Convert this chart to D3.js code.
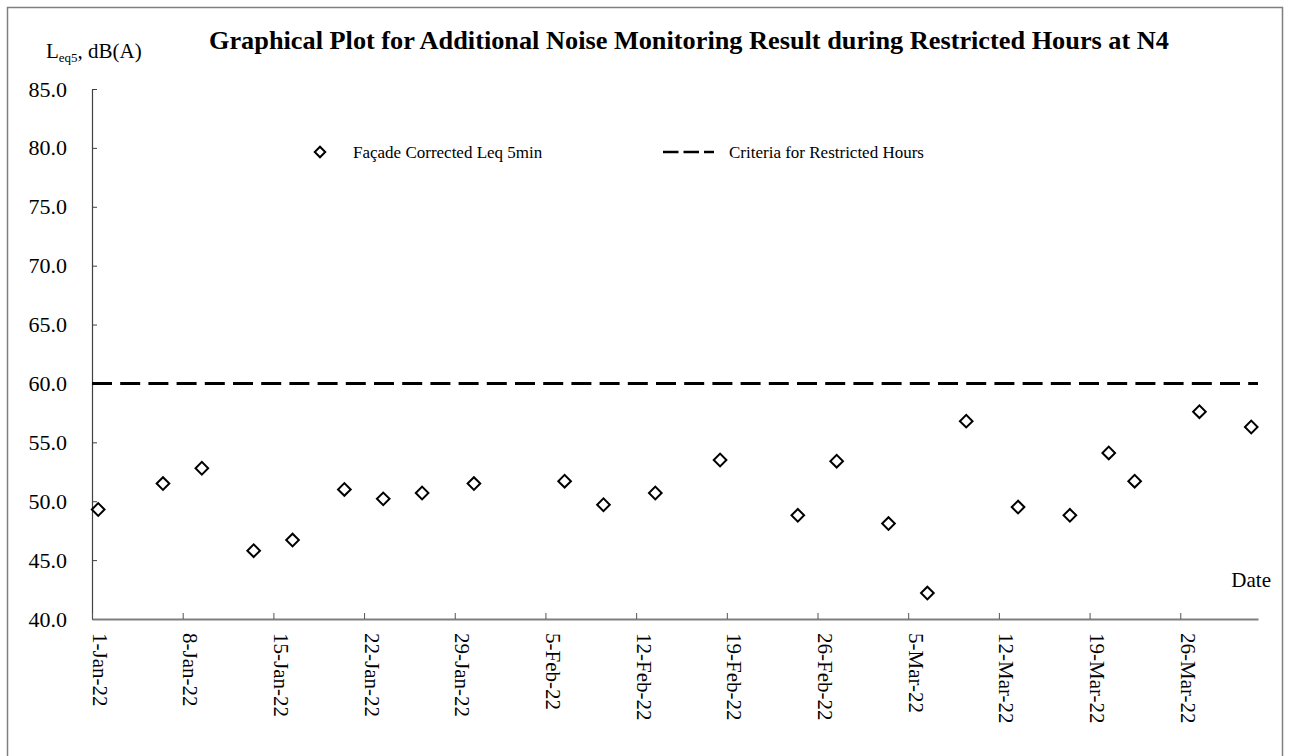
<html>
<meta charset="utf-8">
<style>
body { margin: 0; background: #fff; }
text { font-family: "Liberation Serif", "Times New Roman", serif; fill: #000; }
.point { fill: #fff; stroke: #000; stroke-width: 2px; }
.criteria { stroke: #000; stroke-width: 3px; stroke-dasharray: 20,8.2; }
</style>
<body>
<script src="https://cdn.jsdelivr.net/npm/d3@7"></script>
<script>

// measured times (restricted hours) and facade corrected Leq 5min values
var times = ["2022-01-01 11:30", "2022-01-06 11:30", "2022-01-09 11:30", "2022-01-13 11:30",
  "2022-01-16 11:30", "2022-01-20 11:30", "2022-01-23 11:30", "2022-01-26 11:30",
  "2022-01-30 11:30", "2022-02-06 11:30", "2022-02-09 11:30", "2022-02-13 11:30",
  "2022-02-18 11:30", "2022-02-24 11:30", "2022-02-27 11:30", "2022-03-03 11:30",
  "2022-03-06 11:30", "2022-03-09 11:30", "2022-03-13 11:30", "2022-03-17 11:30",
  "2022-03-20 11:30", "2022-03-22 11:30", "2022-03-27 11:30", "2022-03-31 11:30"];
var leq = [49.3, 51.5, 52.8, 45.8, 46.7, 51.0, 50.2, 50.7,
  51.5, 51.7, 49.7, 50.7, 53.5, 48.8, 53.4, 48.1,
  42.2, 56.8, 49.5, 48.8, 54.1, 51.7, 57.6, 56.3];

var criteria = 60;
var xDomain = ["2022-01-01", "2022-04-01"];
var yDomain = [40, 85];
var yTicks = [40, 45, 50, 55, 60, 65, 70, 75, 80, 85];
var seriesNames = ["Façade Corrected Leq 5min", "Criteria for Restricted Hours"];

var W = 1290, H = 756;
var plot = {left: 92, right: 1258, top: 89, bottom: 619};

var parseTime = d3.utcParse("%Y-%m-%d %H:%M");
var parseDay = d3.utcParse("%Y-%m-%d");

var data = times.map(function(t, i) { return {date: parseTime(t), value: leq[i]}; });

var x = d3.scaleUtc()
    .domain(xDomain.map(parseDay))
    .range([plot.left, plot.right]);
var y = d3.scaleLinear()
    .domain(yDomain)
    .range([plot.bottom, plot.top]);

var svg = d3.select("body").append("svg")
    .attr("width", W)
    .attr("height", H);

// outer chart border
svg.append("rect")
    .attr("x", 7.5).attr("y", 7.5)
    .attr("width", 1275).attr("height", 760)
    .attr("fill", "none")
    .attr("stroke", "#7f7f7f")
    .attr("stroke-width", 1.5);

// title
svg.append("text")
    .attr("x", 689).attr("y", 49)
    .attr("text-anchor", "middle")
    .attr("textLength", 960)
    .attr("lengthAdjust", "spacingAndGlyphs")
    .style("font-size", "25px")
    .style("font-weight", "bold")
    .text("Graphical Plot for Additional Noise Monitoring Result during Restricted Hours at N4");

// y axis label
var yl = svg.append("text")
    .attr("x", 46).attr("y", 58)
    .style("font-size", "21px");
yl.append("tspan").text("L");
yl.append("tspan").attr("dy", 4).style("font-size", "13px").text("eq5");
yl.append("tspan").attr("dy", -4).text(", dB(A)");

// x axis label
svg.append("text")
    .attr("x", 1271).attr("y", 587)
    .attr("text-anchor", "end")
    .style("font-size", "21px")
    .text("Date");

// y axis
var yAxis = svg.append("g")
    .attr("transform", "translate(" + plot.left + ",0)")
    .call(d3.axisLeft(y).tickValues(yTicks).tickFormat(d3.format(".1f"))
      .tickSizeInner(-5).tickSizeOuter(0).tickPadding(25));
yAxis.select(".domain").attr("stroke", "#404040").attr("stroke-width", 1.2);
yAxis.selectAll(".tick line").attr("stroke", "#404040");
yAxis.selectAll(".tick text")
    .style("font-family", "'Liberation Serif', 'Times New Roman', serif")
    .style("font-size", "22px");

// x axis
var xTicks = d3.utcDay.range(x.domain()[0], x.domain()[1], 7);
var xAxis = svg.append("g")
    .attr("transform", "translate(0," + plot.bottom + ")")
    .call(d3.axisBottom(x).tickValues(xTicks).tickFormat(d3.utcFormat("%-d-%b-%y"))
      .tickSizeInner(-6).tickSizeOuter(0));
xAxis.select(".domain").attr("stroke", "#7f7f7f").attr("stroke-width", 1.8);
xAxis.selectAll(".tick line").attr("stroke", "#555");
xAxis.selectAll(".tick text")
    .attr("transform", "rotate(90)")
    .attr("x", 14).attr("y", 0).attr("dy", 0)
    .attr("text-anchor", "start")
    .style("font-family", "'Liberation Serif', 'Times New Roman', serif")
    .style("font-size", "21px");

// criteria line
svg.append("line")
    .attr("class", "criteria")
    .attr("x1", x.range()[0]).attr("x2", x.range()[1])
    .attr("y1", y(criteria)).attr("y2", y(criteria));

// data points (diamonds)
var diamond = d3.symbol().type(d3.symbolSquare).size(80);
svg.selectAll(".point")
    .data(data)
  .enter().append("path")
    .attr("class", "point")
    .attr("d", diamond)
    .attr("transform", function(d) {
      return "translate(" + x(d.date) + "," + y(d.value) + ") rotate(45)";
    });

// legend
var legend = svg.append("g").attr("transform", "translate(0,152)");
legend.append("path")
    .attr("class", "point")
    .attr("d", d3.symbol().type(d3.symbolSquare).size(55))
    .attr("transform", "translate(320,0) rotate(45)");
legend.append("text")
    .attr("x", 353).attr("y", 6)
    .style("font-size", "17px")
    .text(seriesNames[0]);
legend.append("line")
    .attr("x1", 663).attr("x2", 714)
    .attr("y1", 0).attr("y2", 0)
    .attr("stroke", "#000")
    .attr("stroke-width", 2.5)
    .attr("stroke-dasharray", "15.5,5");
legend.append("text")
    .attr("x", 729).attr("y", 6)
    .style("font-size", "17px")
    .text(seriesNames[1]);

</script>
</body>
</html>
